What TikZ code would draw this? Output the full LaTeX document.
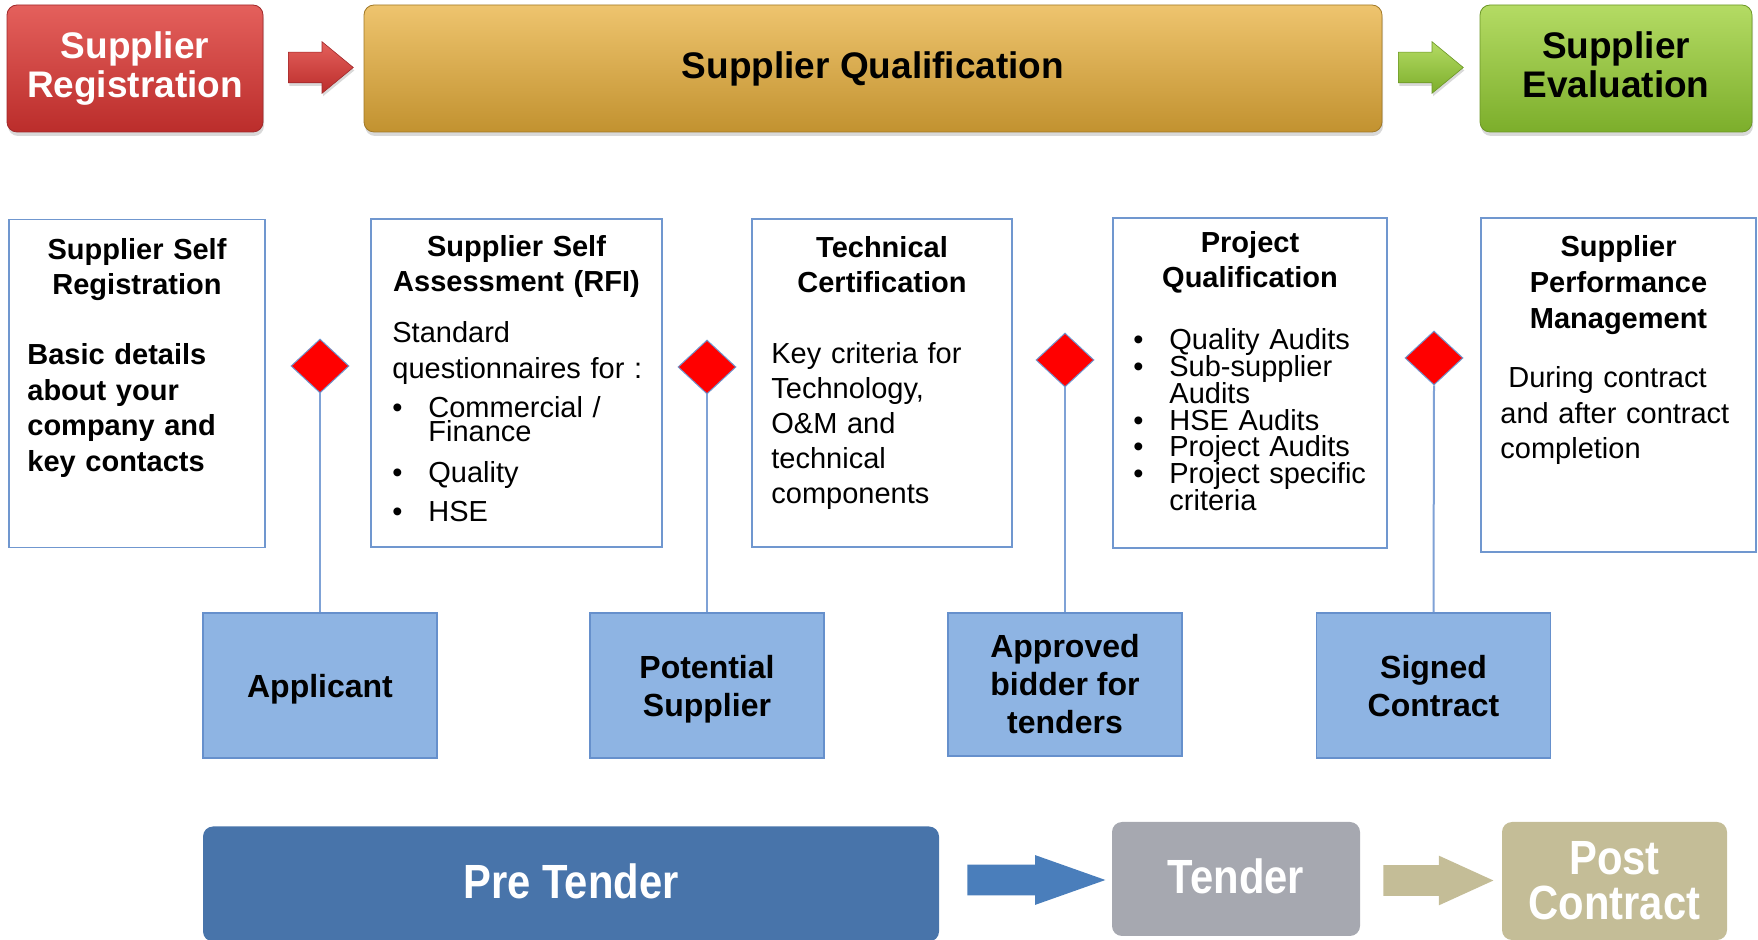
\documentclass[tikz,border=0pt]{standalone}
\usepackage{fontspec}
\setmainfont{Liberation Sans}
\newfontfamily\tallsans[FakeStretch=0.87]{Liberation Sans}
\usetikzlibrary{shapes.geometric,shapes.arrows,shadows}

\definecolor{regtop}{HTML}{E4605C}
\definecolor{regbot}{HTML}{BB2D2B}
\definecolor{regline}{HTML}{A0282A}
\definecolor{qualtop}{HTML}{EEC46E}
\definecolor{qualbot}{HTML}{C29230}
\definecolor{qualline}{HTML}{A07826}
\definecolor{evaltop}{HTML}{B4DB64}
\definecolor{evalbot}{HTML}{7CAE2B}
\definecolor{evalline}{HTML}{6B9626}
\definecolor{boxline}{HTML}{7097CF}
\definecolor{linkblue}{HTML}{7FA2D6}
\definecolor{statusfill}{HTML}{8EB4E3}
\definecolor{statusline}{HTML}{6690CC}
\definecolor{prefill}{HTML}{4874AA}
\definecolor{tenderfill}{HTML}{A6A8B0}
\definecolor{postfill}{HTML}{C4BD97}
\definecolor{arrowblue}{HTML}{4A7EBB}

\newcommand{\dotitem}{\makebox[18pt][l]{\textbullet}}
\newcommand{\dotgap}{\hspace*{18pt}}
\newcommand{\lift}{\rule{0pt}{15.5pt}}

\begin{document}
\begin{tikzpicture}[x=0.5pt,y=-0.5pt,
    stage/.style={rectangle,rounded corners=5pt,minimum height=63.5pt,align=center,
      font=\fontsize{18.5}{19.5}\selectfont\bfseries,
      drop shadow={opacity=0.3,shadow xshift=0.5pt,shadow yshift=-2pt}},
    flow/.style={single arrow,anchor=tail,inner xsep=0pt,inner ysep=7.5pt,minimum height=32.5pt,
      single arrow head extend=5.25pt,single arrow tip angle=79},
    infobox/.style={rectangle,draw=boxline,line width=0.75pt,minimum height=164pt},
    head/.style={anchor=base,inner sep=0pt,text width=136pt,align=center,
      font=\fontsize{14.5}{17.25}\selectfont\bfseries},
    % lines may touch in the tight lists, so no extra \lineskip
    body/.style={anchor=base west,inner sep=0pt,text width=140pt,align=left,
      font=\fontsize{14.5}{17.75}\selectfont,execute at begin node={\lineskiplimit=-20pt}},
    gate/.style={diamond,fill=red,draw=boxline,line width=0.5pt,inner sep=0pt,
      minimum width=29pt,minimum height=27pt},
    status/.style={rectangle,draw=statusline,fill=statusfill,line width=0.75pt,
      minimum width=117pt,minimum height=72.5pt,align=center,
      font=\fontsize{16}{19}\selectfont\bfseries},
    phase/.style={rectangle,rounded corners=5pt,text=white,align=center,
      font=\tallsans\fontsize{24}{22.5}\selectfont\bfseries},
    link/.style={draw=linkblue,line width=1pt}]
  \useasboundingbox (0,0) rectangle (1758,940);

  \node[stage,top color=regtop,bottom color=regbot,draw=regline,text=white,minimum width=128pt]
    (reg) at (135,68.5) {Supplier\\Registration};
  \node[stage,top color=qualtop,bottom color=qualbot,draw=qualline,minimum width=509pt]
    (qual) at (873,68.5) {Supplier Qualification};
  \node[stage,top color=evaltop,bottom color=evalbot,draw=evalline,minimum width=136pt]
    (eval) at (1616,68.5) {Supplier\\Evaluation\vphantom{g}};
  \node[flow,top color=regtop,bottom color=regbot,draw=regline,line width=0.3pt,
    drop shadow={opacity=0.3,shadow xshift=0.5pt,shadow yshift=-1.5pt}] (regarrow) at (288,67.5) {};
  \node[flow,top color=evaltop,bottom color=evalbot,draw=evalline,line width=0.3pt,
    drop shadow={opacity=0.3,shadow xshift=0.5pt,shadow yshift=-1.5pt}] (evalarrow) at (1398,67.5) {};

  \node[infobox,minimum width=128pt] (selfreg) at (137,383.5) {};
  \node[infobox,minimum width=145.5pt] (selfassess) at (516.5,383) {};
  \node[infobox,minimum width=130pt] (techcert) at (882,383) {};
  \node[infobox,minimum width=137pt,minimum height=165pt] (projqual) at (1250,383) {};
  \node[infobox,minimum width=137.5pt,minimum height=167pt] (perfmgmt) at (1618.5,385) {};

  \node[head] at (137,260) {Supplier Self\\Registration};
  \node[body,font=\fontsize{14.5}{17.75}\selectfont\bfseries] at (27,365)
    {Basic details\\about your\\company and\\key contacts};

  \node[head] at (516.5,257) {Supplier Self\\Assessment (RFI)};
  \node[body,font=\fontsize{14.5}{12}\selectfont] at (392,343)
    {Standard\\[6pt]questionnaires for :\\[7.5pt]\dotitem Commercial /\\\dotgap Finance\\[8.5pt]\dotitem Quality\\[7.5pt]\dotitem HSE};

  \node[head] at (882,258) {Technical\\Certification};
  \node[body,font=\fontsize{14.5}{17.5}\selectfont] at (771,364)
    {Key criteria for\\Technology,\\O\&M and\\technical\\components};

  \node[head] at (1250,253) {Project\\Qualification};
  \node[body,font=\fontsize{14.5}{13.35}\selectfont] at (1133,350)
    {\dotitem Quality Audits\\\dotitem Sub-supplier\\\dotgap Audits\\\dotitem HSE Audits\\\dotitem Project Audits\\\dotitem Project specific\\\dotgap criteria};

  \node[head,font=\fontsize{14.5}{18}\selectfont\bfseries] at (1618.5,257) {Supplier\\Performance\\Management};
  \node[body] at (1500,388) {\hspace*{4pt}During contract\\and after contract\\completion};

  \node[gate] (g1) at (320,366) {};
  \node[gate] (g2) at (707,367) {};
  \node[gate] (g3) at (1065,360) {};
  \node[gate] (g4) at (1434,358) {};

  \node[status] (applicant) at (320,685.5) {\lift Applicant};
  \node[status] (potential) at (707,685.5) {\lift Potential\\Supplier};
  \node[status,minimum height=71.5pt] (approved) at (1065,684.5) {Approved\\bidder for\\tenders};
  \node[status] (signed) at (1433.5,685.5) {\lift Signed\\Contract\vphantom{p}};

  \draw[link] (g1.south) -- (applicant.north);
  \draw[link] (g2.south) -- (potential.north);
  \draw[link] (g3.south) -- (approved.north);
  \draw[link] (g4.south) -- (signed.north);

  \node[phase,fill=prefill,minimum width=368pt,minimum height=57.5pt,text depth=3pt] (pretender) at (571,884) {Pre Tender};
  \node[phase,fill=tenderfill,minimum width=124pt,minimum height=57pt,text depth=3pt] (tender) at (1236,879) {Tender};
  \node[phase,fill=postfill,minimum width=112.5pt,minimum height=59pt] (postcontract) at (1614.5,881) {Post\\Contract};
  \node[flow,fill=arrowblue,minimum height=69pt,single arrow head extend=4.75pt,
    single arrow tip angle=39] (tenderarrow) at (967,880) {};
  \node[flow,fill=postfill,minimum height=55pt,single arrow head extend=4.75pt,
    single arrow tip angle=49] (postarrow) at (1383,880.5) {};
\end{tikzpicture}
\end{document}
